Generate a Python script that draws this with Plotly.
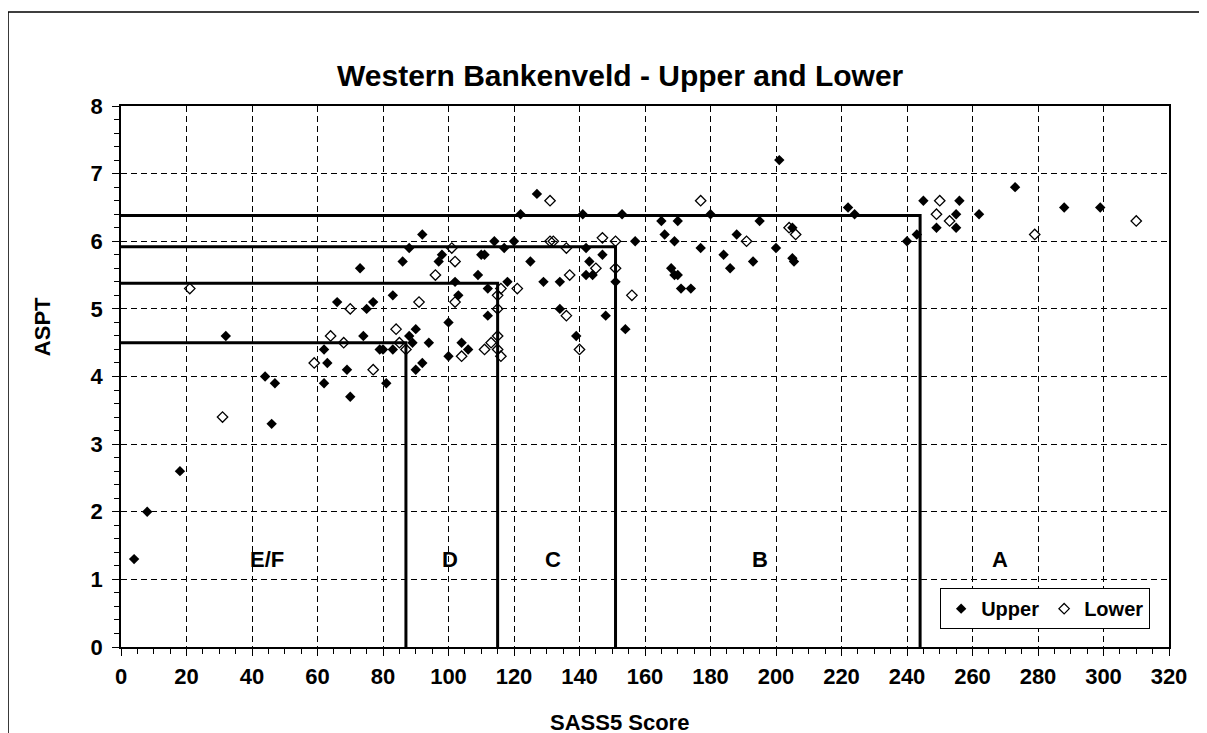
import plotly.graph_objects as go

# ---- data ----
upper_x = [4, 8, 18, 46, 47, 32, 44, 92, 88, 86,
           73, 83, 66, 75, 77, 90, 88, 74, 89, 94,
           62, 79, 80, 83, 63, 69, 90, 92, 62, 81, 70,
           127, 122, 114, 120, 117, 97, 98, 110, 111, 125, 109, 102, 129, 134, 118, 112, 103, 134, 112, 100, 104, 106, 100, 139,
           141, 153, 180, 165, 170, 166, 169, 177, 184, 188, 186, 157, 142, 147, 143, 142, 144, 151, 168, 169, 170, 171, 174, 148, 154,
           201, 195, 205, 200, 193, 205, 205.5, 222, 224,
           240, 243, 245, 256, 255, 249, 255, 262, 273,
           288, 299]
upper_y = [1.3, 2.0, 2.6, 3.3, 3.9, 4.6, 4.0, 6.1, 5.9, 5.7,
           5.6, 5.2, 5.1, 5.0, 5.1, 4.7, 4.6, 4.6, 4.5, 4.5,
           4.4, 4.4, 4.4, 4.4, 4.2, 4.1, 4.1, 4.2, 3.9, 3.9, 3.7,
           6.7, 6.4, 6.0, 6.0, 5.9, 5.7, 5.8, 5.8, 5.8, 5.7, 5.5, 5.4, 5.4, 5.4, 5.4, 5.3, 5.2, 5.0, 4.9, 4.8, 4.5, 4.4, 4.3, 4.6,
           6.4, 6.4, 6.4, 6.3, 6.3, 6.1, 6.0, 5.9, 5.8, 6.1, 5.6, 6.0, 5.9, 5.8, 5.7, 5.5, 5.5, 5.4, 5.6, 5.5, 5.5, 5.3, 5.3, 4.9, 4.7,
           7.2, 6.3, 6.2, 5.9, 5.7, 5.75, 5.7, 6.5, 6.4,
           6.0, 6.1, 6.6, 6.6, 6.4, 6.2, 6.2, 6.4, 6.8,
           6.5, 6.5]

lower_x = [31, 21, 91, 70, 84, 64, 68, 85, 87, 59, 77,
           131, 131, 132, 136, 101, 102, 96, 137, 121, 116, 115, 102, 115, 136, 115, 113, 111, 115, 116, 104, 140,
           177, 191, 151, 147, 145, 151, 156,
           204, 206,
           250, 249, 253, 279,
           310]
lower_y = [3.4, 5.3, 5.1, 5.0, 4.7, 4.6, 4.5, 4.5, 4.4, 4.2, 4.1,
           6.6, 6.0, 6.0, 5.9, 5.9, 5.7, 5.5, 5.5, 5.3, 5.3, 5.2, 5.1, 5.0, 4.9, 4.6, 4.5, 4.4, 4.4, 4.3, 4.3, 4.4,
           6.6, 6.0, 6.0, 6.05, 5.6, 5.6, 5.2,
           6.2, 6.1,
           6.6, 6.4, 6.3, 6.1,
           6.3]

# class boundaries (SASS5 score, ASPT)
band_sass = [87, 115, 151, 244]
band_aspt = [4.5, 5.38, 5.92, 6.38]

band_labels = ["E/F", "D", "C", "B", "A"]
band_label_x = [44.7, 100.5, 132, 195, 268.4]
band_label_y = 1.3

x_ticks = list(range(0, 321, 20))
y_ticks = list(range(0, 9, 1))

FONT = "Liberation Sans, Arial, sans-serif"

fig = go.Figure()

for sx, sy in zip(band_sass, band_aspt):
    fig.add_trace(go.Scatter(
        x=[0, sx, sx], y=[sy, sy, 0], mode="lines",
        line=dict(color="black", width=3), showlegend=False, hoverinfo="skip"))

fig.add_trace(go.Scatter(
    x=upper_x, y=upper_y, mode="markers", name="Upper",
    marker=dict(symbol="diamond", size=8, color="black")))
fig.add_trace(go.Scatter(
    x=lower_x, y=lower_y, mode="markers", name="Lower",
    marker=dict(symbol="diamond-open", size=8, color="black", line=dict(width=1.3, color="#222"))))

for lab, lx in zip(band_labels, band_label_x):
    fig.add_annotation(x=lx, y=band_label_y, text="<b>%s</b>" % lab, showarrow=False,
                       xanchor="center", yanchor="middle",
                       font=dict(size=22, family=FONT, color="black"))

# title and axis titles
fig.add_annotation(xref="paper", yref="paper", x=0.477, y=1.057, xanchor="center", yanchor="middle",
                   text="<b>Western Bankenveld - Upper and Lower</b>",
                   showarrow=False, font=dict(size=30, family=FONT, color="black"))
fig.add_annotation(xref="paper", yref="paper", x=-0.0754, y=0.593, xanchor="center", yanchor="middle",
                   text="<b>ASPT</b>", textangle=-90,
                   showarrow=False, font=dict(size=22, family=FONT, color="black"))
fig.add_annotation(xref="paper", yref="paper", x=0.476, y=-0.139, xanchor="center", yanchor="middle",
                   text="<b>SASS5 Score</b>",
                   showarrow=False, font=dict(size=22, family=FONT, color="black"))

# outer chart border
fig.add_shape(type="rect", xref="paper", yref="paper", x0=-0.1078, y0=-0.4, x1=1.3, y1=1.1738,
              line=dict(color="black", width=1.5))

axis_common = dict(
    showline=True, linecolor="black", linewidth=1.5, mirror=True,
    showgrid=True, gridcolor="black", gridwidth=1, griddash="6px,4px",
    ticks="outside", tickcolor="black", ticklen=7, tickwidth=1,
    tickfont=dict(size=22, family=FONT, color="black", weight="bold"),
    zeroline=False,
)

fig.update_xaxes(range=[0, 320], tickvals=x_ticks, ticktext=[str(v) for v in x_ticks],
                 ticklabelstandoff=2,
                 minor=dict(dtick=5, ticks="outside", ticklen=5, tickcolor="black", showgrid=False),
                 **axis_common)
fig.update_yaxes(range=[0, 8], tickvals=y_ticks, ticktext=[str(v) for v in y_ticks],
                 ticklabelstandoff=5,
                 minor=dict(dtick=0.2, ticks="outside", ticklen=5, tickcolor="black", showgrid=False),
                 **axis_common)

fig.update_layout(
    width=1207, height=733,
    margin=dict(l=113, r=46, t=98, b=94),
    plot_bgcolor="white", paper_bgcolor="white",
    font=dict(family=FONT, color="black"),
    showlegend=True,
    legend=dict(orientation="h", x=0.982, xanchor="right", y=0.033, yanchor="bottom",
                bgcolor="white", bordercolor="black", borderwidth=1,
                font=dict(size=20, family=FONT, color="black", weight="bold"),
                itemwidth=30, tracegroupgap=0),
)

fig.write_html("out.html")
